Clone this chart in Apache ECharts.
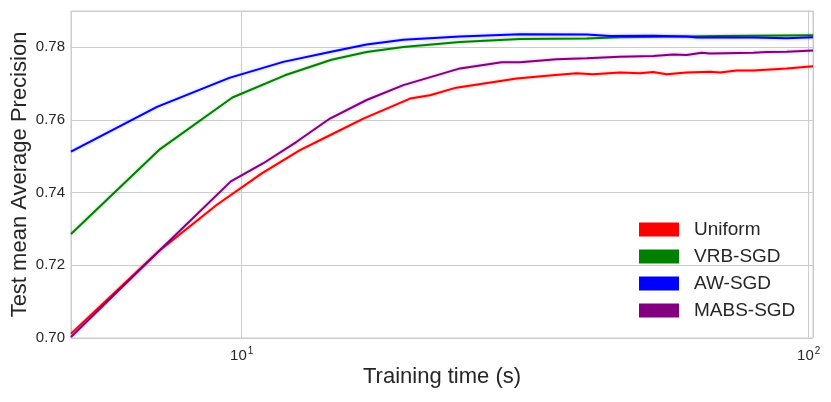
<!DOCTYPE html>
<html>
<head>
<meta charset="utf-8">
<script src="https://cdn.jsdelivr.net/npm/echarts@6/dist/echarts.min.js"></script>
<style>
html,body{margin:0;padding:0;background:#fff;}
#chart{width:831px;height:402px;}
</style>
</head>
<body>
<div id="chart"></div>
<script>
// Series names and colours
var seriesNames = ['Uniform', 'VRB-SGD', 'AW-SGD', 'MABS-SGD'];
var seriesColors = ['#ff0000', '#008000', '#0000ff', '#800080'];

// [training time (s), test mAP]
var uniformData = [
  [5.00,0.7012],[7.13,0.7238],[9.03,0.7366],[10.85,0.7453],[12.67,0.7517],[14.31,0.7558],
  [16.39,0.7604],[19.81,0.7659],[21.48,0.7668],[23.9,0.7689],[30.55,0.7714],[34.51,0.7722],
  [38.98,0.7729],[41.65,0.7726],[46.48,0.7731],[50.41,0.7729],[53.14,0.7732],[56.18,0.7726],
  [60.93,0.7731],[66.98,0.7733],[69.76,0.7731],[74.65,0.7736],[79.88,0.7736],[91.45,0.7742],
  [101.76,0.7748]
];
var vrbData = [
  [5.00,0.7286],[7.18,0.7520],[9.63,0.7662],[11.92,0.7723],[14.4,0.7766],[16.61,0.7787],
  [19.28,0.7801],[24.27,0.7815],[30.96,0.7823],[40.60,0.7824],[46.48,0.7828],[60.93,0.7830],
  [69.76,0.7831],[101.76,0.7833]
];
var awData = [
  [5.00,0.7513],[7.09,0.7636],[9.51,0.7716],[11.84,0.7760],[14.31,0.7787],[16.61,0.7808],
  [19.28,0.7821],[24.27,0.7830],[30.96,0.7836],[40.60,0.7835],[44.63,0.7831],[53.20,0.7832],
  [60.93,0.7830],[63.46,0.7827],[79.88,0.7827],[91.45,0.7825],[101.76,0.7828]
];
var mabsData = [
  [5.00,0.7003],[7.23,0.7247],[9.57,0.7431],[10.92,0.7481],[12.50,0.7540],[14.31,0.7604],
  [16.61,0.7655],[19.28,0.7696],[24.27,0.7742],[28.74,0.7759],[30.96,0.7759],[35.94,0.7767],
  [40.60,0.7770],[46.48,0.7774],[53.20,0.7776],[57.70,0.7780],[60.93,0.7779],[64.76,0.7785],
  [66.98,0.7783],[79.88,0.7785],[84.34,0.7787],[91.45,0.7788],[101.76,0.7791]
];

var xMin = 5.0, xMax = 101.76;
var yMin = 0.70, yMax = 0.79, yInterval = 0.02;
var xTickPowers = [10, 100];

var FONT = 'Liberation Sans, Arial, sans-serif';
var allData = [uniformData, vrbData, awData, mabsData];

function hexToRgba(hex, a) {
  var r = parseInt(hex.slice(1,3),16), g = parseInt(hex.slice(3,5),16), b = parseInt(hex.slice(5,7),16);
  return 'rgba(' + r + ',' + g + ',' + b + ',' + a + ')';
}

var chart = echarts.init(document.getElementById('chart'));
chart.setOption({
  animation: false,
  backgroundColor: '#ffffff',
  textStyle: { fontFamily: FONT },
  grid: { left: 71, right: 18, top: 11, bottom: 64, show: true, borderColor: '#cccccc', borderWidth: 1, containLabel: false, outerBoundsMode: 'none' },
  legend: {
    orient: 'vertical',
    left: 639, top: 220, padding: 0,
    itemWidth: 40, itemHeight: 14, itemGap: 8,
    icon: 'rect',
    data: seriesNames,
    textStyle: { fontSize: 19, color: '#262626', fontFamily: FONT, padding: [0,0,0,10], lineHeight: 19 }
  },
  xAxis: {
    type: 'log', logBase: 10, min: xMin, max: xMax,
    name: 'Training time (s)', nameLocation: 'middle', nameGap: 28, nameMoveOverlap: false,
    nameTextStyle: { fontSize: 22, color: '#262626', fontFamily: FONT },
    axisLine: { show: false }, axisTick: { show: false },
    splitLine: { show: true, lineStyle: { color: '#cccccc', width: 1 } },
    minorTick: { show: false }, minorSplitLine: { show: false },
    axisLabel: {
      margin: 8, color: '#262626', fontSize: 15, fontFamily: FONT,
      formatter: function (v) {
        for (var i = 0; i < xTickPowers.length; i++) {
          if (Math.abs(v - xTickPowers[i]) < 1e-6 * xTickPowers[i]) {
            return '{b|10}{s|' + Math.round(Math.log10(xTickPowers[i])) + '}';
          }
        }
        return '';
      },
      rich: {
        b: { fontSize: 15, color: '#262626', fontFamily: FONT },
        s: { fontSize: 10, color: '#262626', fontFamily: FONT, padding: [0,0,10,1] }
      }
    }
  },
  yAxis: {
    type: 'value', min: yMin, max: yMax, interval: yInterval,
    name: 'Test mean Average Precision', nameLocation: 'middle', nameGap: 40, nameMoveOverlap: false,
    nameTextStyle: { fontSize: 22, color: '#262626', fontFamily: FONT },
    axisLine: { show: false }, axisTick: { show: false },
    splitLine: { show: true, lineStyle: { color: '#cccccc', width: 1 } },
    axisLabel: {
      margin: 6, color: '#262626', fontSize: 15, fontFamily: FONT,
      formatter: function (v) { return v > 0.785 ? '' : v.toFixed(2); }
    }
  },
  series: seriesNames.map(function (name, i) {
    return {
      name: name, type: 'line', data: allData[i],
      showSymbol: false, symbol: 'none', smooth: false,
      color: seriesColors[i],
      lineStyle: { width: 2, color: seriesColors[i], shadowBlur: 3, shadowColor: hexToRgba(seriesColors[i], 0.35) },
      emphasis: { disabled: true }
    };
  })
});
</script>
</body>
</html>
